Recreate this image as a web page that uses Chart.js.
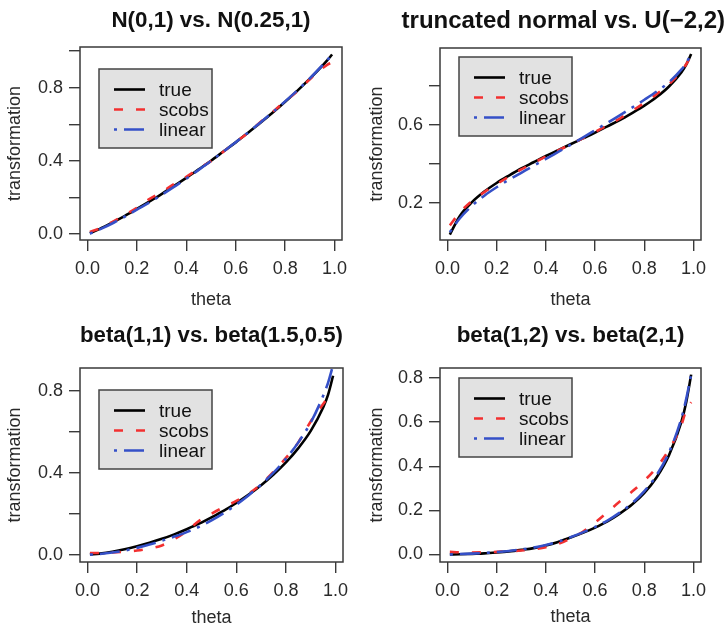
<!DOCTYPE html>
<html><head><meta charset="utf-8">
<script src="https://cdn.jsdelivr.net/npm/chart.js@4.4.1/dist/chart.umd.min.js"></script>
<style>
html,body{margin:0;padding:0;background:#fff;overflow:hidden;width:725px;height:631px;position:relative;}
.panel{position:absolute;}
canvas{display:block;}
</style></head><body>
<div class="panel" style="left:0;top:0"><canvas id="c1" width="362" height="315"></canvas></div>
<div class="panel" style="left:362px;top:0"><canvas id="c2" width="363" height="315"></canvas></div>
<div class="panel" style="left:0;top:315px"><canvas id="c3" width="362" height="316"></canvas></div>
<div class="panel" style="left:362px;top:315px"><canvas id="c4" width="363" height="316"></canvas></div>
<script>
// ---------- data ----------
const theta = [0.01,0.05,0.10,0.15,0.20,0.25,0.30,0.35,0.40,0.45,0.50,0.55,0.60,0.65,0.70,0.75,0.80,0.85,0.90,0.95,0.97,0.99];
const seriesNames = ["true","scobs","linear"];

const titles = ["N(0,1) vs. N(0.25,1)", "truncated normal vs. U(\u22122,2)", "beta(1,1) vs. beta(1.5,0.5)", "beta(1,2) vs. beta(2,1)"];
const xLabel = "theta";
const yLabel = "transformation";

const p1True   = [0.005,0.029,0.063,0.099,0.138,0.178,0.219,0.263,0.307,0.354,0.401,0.451,0.501,0.554,0.608,0.664,0.723,0.784,0.849,0.919,0.949,0.981];
const p1Scobs  = [0.012,0.031,0.066,0.104,0.143,0.191,0.229,0.273,0.313,0.357,0.399,0.450,0.503,0.553,0.612,0.668,0.726,0.782,0.846,0.905,0.925,0.937];
const p1Linear = [0.003,0.026,0.058,0.095,0.134,0.172,0.214,0.258,0.303,0.351,0.400,0.451,0.502,0.555,0.610,0.666,0.725,0.786,0.851,0.921,0.950,0.982];

const p2True   = [0.038,0.132,0.204,0.258,0.302,0.340,0.376,0.408,0.440,0.470,0.500,0.530,0.560,0.592,0.624,0.660,0.698,0.742,0.796,0.868,0.908,0.962];
const p2Scobs  = [0.085,0.150,0.210,0.255,0.296,0.334,0.371,0.405,0.438,0.469,0.499,0.531,0.563,0.597,0.632,0.671,0.712,0.757,0.808,0.874,0.910,0.955];
const p2Linear = [0.050,0.120,0.185,0.237,0.280,0.318,0.354,0.390,0.425,0.461,0.497,0.534,0.572,0.610,0.648,0.688,0.728,0.770,0.818,0.882,0.916,0.962];

const p3True   = [0.000,0.005,0.014,0.026,0.041,0.058,0.077,0.099,0.124,0.151,0.182,0.215,0.252,0.293,0.339,0.391,0.450,0.520,0.604,0.718,0.781,0.873];
const p3Scobs  = [0.008,0.008,0.010,0.014,0.020,0.030,0.045,0.075,0.115,0.165,0.200,0.232,0.262,0.298,0.345,0.405,0.472,0.548,0.650,0.735,0.770,0.800];
const p3Linear = [0.000,0.003,0.010,0.020,0.033,0.049,0.068,0.088,0.110,0.136,0.167,0.203,0.244,0.290,0.342,0.400,0.468,0.548,0.645,0.775,0.840,0.925];

const p4True   = [0.000,0.001,0.003,0.005,0.009,0.014,0.021,0.029,0.041,0.057,0.077,0.098,0.122,0.150,0.185,0.226,0.279,0.350,0.450,0.600,0.690,0.815];
const p4Scobs  = [0.012,0.010,0.009,0.010,0.012,0.015,0.018,0.024,0.033,0.048,0.072,0.103,0.145,0.192,0.240,0.285,0.335,0.395,0.475,0.585,0.655,0.690];
const p4Linear = [0.000,0.002,0.004,0.007,0.011,0.016,0.023,0.031,0.043,0.058,0.078,0.100,0.125,0.154,0.190,0.232,0.287,0.360,0.462,0.615,0.705,0.815];

const xTicks = [0,0.2,0.4,0.6,0.8,1.0];
const yTicks1 = [0,0.2,0.4,0.6,0.8,1.0], yLab1 = ["0.0","0.4","0.8"];
const yTicks2 = [0.2,0.4,0.6,0.8],       yLab2 = ["0.2","0.6"];
const yTicks3 = [0,0.2,0.4,0.6,0.8],     yLab3 = ["0.0","0.4","0.8"];
const yTicks4 = [0,0.2,0.4,0.6,0.8],     yLab4 = ["0.0","0.2","0.4","0.6","0.8"];
const xRange = [-0.03, 1.03];
const yRange1 = [-0.032, 1.022];
const yRange2 = [0.010, 0.993];
const yRange3 = [-0.036, 0.911];
const yRange4 = [-0.034, 0.845];

// ---------- styling / layout ----------
const FONT = '"Liberation Sans", Arial, Helvetica, sans-serif';
Chart.defaults.font.family = FONT;
const AXIS = '#3a3a3a';
const styles = [
  {color:'#000000', dash:[], width:2.6, order:3},
  {color:'#f23030', dash:[9,13], width:2.6, order:2},
  {color:'#3550c8', dash:[3,7,20,7], width:2.6, order:1}
];
// each panel: canvas origin/size and plot box (page coordinates)
const panels = [
  {id:'c1', L:0,   T:0,   W:362, H:315, box:{l:80, t:47, r:342, b:240}, titleY:21, titleSize:22.4, titleWide:false, xTitleY:300, series:[p1True,p1Scobs,p1Linear], yr:yRange1, yt:yTicks1, yl:yLab1, leg:{dy:22}},
  {id:'c2', L:362, T:0,   W:363, H:315, box:{l:440,t:48, r:701,b:240}, titleY:21, titleSize:24,   titleWide:true,  xTitleY:300, series:[p2True,p2Scobs,p2Linear], yr:yRange2, yt:yTicks2, yl:yLab2, leg:{dy:9}},
  {id:'c3', L:0,   T:315, W:362, H:316, box:{l:80, t:368,r:343,b:562}, titleY:21, titleSize:22.4, titleWide:false, xTitleY:303, series:[p3True,p3Scobs,p3Linear], yr:yRange3, yt:yTicks3, yl:yLab3, leg:{dy:22}},
  {id:'c4', L:362, T:315, W:363, H:316, box:{l:440,t:368,r:701,b:562}, titleY:21, titleSize:22.4, titleWide:false, xTitleY:302, series:[p4True,p4Scobs,p4Linear], yr:yRange4, yt:yTicks4, yl:yLab4, leg:{dy:10}}
];

const frame = {
  id:'frame',
  afterDraw(chart){
    const {ctx, chartArea:a} = chart;
    ctx.save();
    ctx.strokeStyle = AXIS; ctx.lineWidth = 1.5;
    ctx.strokeRect(a.left, a.top, a.right-a.left, a.bottom-a.top);
    ctx.restore();
  }
};
const rLegend = {
  id:'rLegend',
  afterDatasetsDraw(chart, args, opts){
    const {ctx, chartArea:a} = chart;
    const x0 = a.left + opts.dx, y0 = a.top + opts.dy;
    ctx.save();
    ctx.fillStyle = '#e2e2e2';
    ctx.fillRect(x0, y0, opts.w, opts.h);
    ctx.strokeStyle = '#444'; ctx.lineWidth = 1.5;
    ctx.strokeRect(x0, y0, opts.w, opts.h);
    chart.data.datasets.forEach((ds, i) => {
      const y = y0 + 20.5 + i*20;
      ctx.beginPath();
      ctx.setLineDash(ds.borderDash || []);
      ctx.strokeStyle = ds.borderColor; ctx.lineWidth = ds.borderWidth;
      ctx.moveTo(x0+15, y); ctx.lineTo(x0+46, y); ctx.stroke();
      ctx.setLineDash([]);
      ctx.fillStyle = '#111';
      ctx.font = '19px ' + FONT;
      ctx.textAlign = 'left'; ctx.textBaseline = 'middle';
      ctx.fillText(ds.label, x0+60, y+1);
    });
    ctx.restore();
  }
};

panels.forEach((p, k) => {
  const boxTop = p.box.t - p.T;
  const tLH = p.titleSize*1.2;
  const tPadTop = p.titleY - tLH/2;
  const tPadBot = boxTop - tPadTop - tLH;
  const yScaleW = p.box.l - p.L;
  const xScaleH = (p.T + p.H) - p.box.b;
  const rightGap = (p.L + p.W) - p.box.r;
  const axLH = 18*1.2;
  const xTitlePadBottom = p.H - p.xTitleY - axLH/2;
  const datasets = p.series.map((vals, i) => ({
    label: seriesNames[i],
    data: theta.map((t, j) => ({x:t, y:vals[j]})),
    borderColor: styles[i].color,
    backgroundColor: styles[i].color,
    borderDash: styles[i].dash,
    borderWidth: styles[i].width,
    order: styles[i].order,
    pointRadius: 0,
    fill: false,
    cubicInterpolationMode: 'monotone'
  }));
  const scales = {
    x:{type:'linear', min:xRange[0], max:xRange[1],
       afterBuildTicks: s => { s.ticks = xTicks.map(v => ({value:v})); },
       afterFit: s => { s.height = xScaleH; },
       ticks:{autoSkip:false, maxRotation:0, color:'#2a2a2a', font:{size:18}, padding:7,
              callback: v => v.toFixed(1)},
       grid:{drawOnChartArea:false, drawTicks:true, tickLength:11, color:AXIS, lineWidth:1.4},
       border:{display:false},
       title:{display:true, text:xLabel, color:'#2a2a2a', font:{size:18}, padding:{top:0, bottom:xTitlePadBottom}}},
    y:{type:'linear', position:'left', min:p.yr[0], max:p.yr[1],
       afterBuildTicks: s => { s.ticks = p.yt.map(v => ({value:v})); },
       afterFit: s => { s.width = yScaleW; },
       ticks:{autoSkip:false, color:'#2a2a2a', font:{size:18}, padding:6,
              callback: v => { const t = v.toFixed(1); return p.yl.includes(t) ? t : ''; }},
       grid:{drawOnChartArea:false, drawTicks:true, tickLength:11, color:AXIS, lineWidth:1.4},
       border:{display:false},
       title:{display:true, text:yLabel, color:'#2a2a2a', font:{size:18}, padding:{top:4.5, bottom:0}}}
  };
  if (p.titleWide) {
    // empty right-side spacer so a full-width title can end at the canvas edge
    scales.yR = {type:'linear', position:'right', display:true, min:0, max:1,
      afterFit: s => { s.width = rightGap; },
      ticks:{display:false}, grid:{display:false, drawTicks:false}, border:{display:false}};
  }
  new Chart(document.getElementById(p.id), {
    type:'line',
    data:{datasets},
    options:{
      responsive:false, animation:false, devicePixelRatio:1,
      layout:{padding:{left:0, top:0, right: p.titleWide ? 0 : rightGap, bottom:0}},
      plugins:{
        legend:{display:false}, tooltip:{enabled:false},
        title:{display:true, text:titles[k], fullSize:p.titleWide, align: p.titleWide ? 'end' : 'center', color:'#111',
               font:{size:p.titleSize, weight:'bold'}, padding:{top:tPadTop, bottom:tPadBot}},
        rLegend:{dx:19, dy:p.leg.dy, w:113, h:79}
      },
      scales
    },
    plugins:[frame, rLegend]
  });
});
</script>
</body></html>
